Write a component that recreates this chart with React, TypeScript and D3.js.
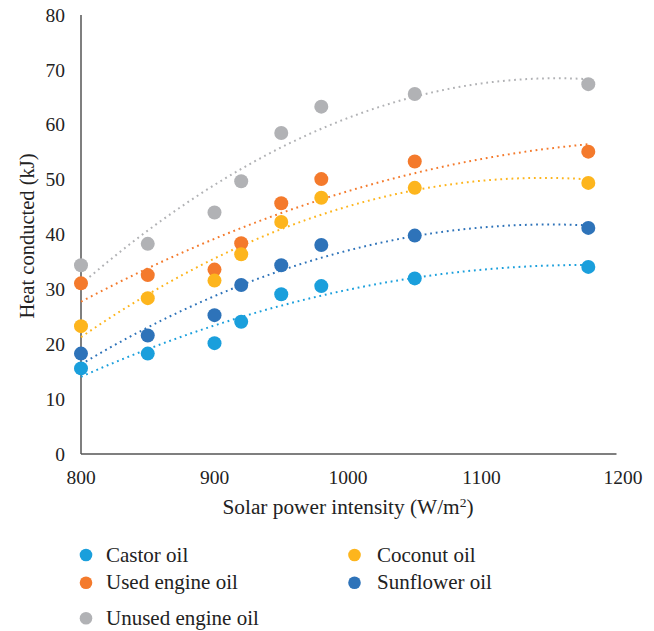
import React from "react";
import * as d3 from "d3";

const intensity = [800, 850, 900, 920, 950, 980, 1050, 1180];
const castorOil = [15.6, 18.3, 20.2, 24.1, 29.1, 30.6, 32.0, 34.1];
const usedEngineOil = [31.1, 32.6, 33.6, 38.4, 45.7, 50.1, 53.3, 55.1];
const unusedEngineOil = [34.4, 38.3, 44.0, 49.7, 58.5, 63.3, 65.6, 67.4];
const coconutOil = [23.3, 28.4, 31.6, 36.4, 42.3, 46.7, 48.5, 49.4];
const sunflowerOil = [18.3, 21.6, 25.3, 30.8, 34.4, 38.1, 39.8, 41.2];

const xTicks = [800, 900, 1000, 1100, 1200];
const yTicks = [0, 10, 20, 30, 40, 50, 60, 70, 80];

const seriesNames = ["Castor oil", "Coconut oil", "Used engine oil", "Sunflower oil", "Unused engine oil"];
const seriesColors = ["#1a9fdc", "#fdb51d", "#f47a2c", "#2e73b9", "#b1b2b5"];
const seriesValues = [castorOil, coconutOil, usedEngineOil, sunflowerOil, unusedEngineOil];

// draw order (bottom to top)
const drawOrder = [2, 4, 0, 1, 3];

function quadFit(xs: number[], ys: number[]) {
  const t = xs.map((x) => (x - 1000) / 100);
  const S = (p: number) => d3.sum(t, (v) => Math.pow(v, p));
  const T = (p: number) => d3.sum(t, (v, i) => Math.pow(v, p) * ys[i]);
  const A = [
    [S(0), S(1), S(2), T(0)],
    [S(1), S(2), S(3), T(1)],
    [S(2), S(3), S(4), T(2)],
  ];
  for (let i = 0; i < 3; i++) {
    for (let k = i + 1; k < 3; k++) {
      const f = A[k][i] / A[i][i];
      for (let j = i; j < 4; j++) A[k][j] -= f * A[i][j];
    }
  }
  const c = [0, 0, 0];
  for (let i = 2; i >= 0; i--) {
    let s = A[i][3];
    for (let j = i + 1; j < 3; j++) s -= A[i][j] * c[j];
    c[i] = s / A[i][i];
  }
  return (x: number) => {
    const v = (x - 1000) / 100;
    return c[0] + c[1] * v + c[2] * v * v;
  };
}

const FONT = "'Liberation Serif', 'DejaVu Serif', serif";

export default function App() {
  const x = d3.scaleLinear().domain([800, 1200]).range([81, 615]);
  const y = d3.scaleLinear().domain([0, 80]).range([454, 15]);

  const trendXs = d3.range(800, 1180.01, 2);

  return (
    <svg
      width={654}
      height={631}
      style={{ position: "absolute", left: 0, top: 0, background: "#fff" }}
      fontFamily={FONT}
    >
      <rect width={654} height={631} fill="#fff" />
      {/* axes */}
      <line x1={x(800)} x2={x(800)} y1={y(80)} y2={y(0)} stroke="#555" strokeWidth={1.5} />
      <line x1={x(800)} x2={616.5} y1={y(0)} y2={y(0)} stroke="#555" strokeWidth={1.5} />
      {yTicks.map((t) => (
        <text key={"y" + t} x={65} y={y(t)} dy="0.34em" textAnchor="end" fontSize={19.5} fill="#222">
          {t}
        </text>
      ))}
      {xTicks.map((t, i) => (
        <text
          key={"x" + t}
          x={x(t) + (i === xTicks.length - 1 ? 8 : 0)}
          y={483.5}
          textAnchor="middle"
          fontSize={19.5}
          fill="#222"
        >
          {t}
        </text>
      ))}
      <text x={348} y={513.5} textAnchor="middle" fontSize={21.3} fill="#222">
        Solar power intensity (W/m
        <tspan dy={-7} fontSize={13.5}>
          2
        </tspan>
        <tspan dy={7}>)</tspan>
      </text>
      <text
        transform={`translate(33.5,${236}) rotate(-90)`}
        textAnchor="middle"
        fontSize={20.5}
        fill="#222"
      >
        Heat conducted (kJ)
      </text>

      {/* trendlines */}
      {drawOrder.map((si) => {
        const f = quadFit(intensity, seriesValues[si]);
        const pts = trendXs.map((xv) => [x(xv), y(f(xv))] as [number, number]);
        const path = d3.line()(pts) as string;
        return (
          <path
            key={"t" + si}
            d={path}
            fill="none"
            stroke={seriesColors[si]}
            strokeWidth={2}
            strokeDasharray="1.8 3.8"
          />
        );
      })}

      {/* points */}
      {drawOrder.map((si) => (
        <g key={"p" + si}>
          {seriesValues[si].map((v, i) => (
            <circle key={i} cx={x(intensity[i])} cy={y(v)} r={7} fill={seriesColors[si]} />
          ))}
        </g>
      ))}

      {/* legend */}
      {seriesNames.map((name, i) => {
        const col = i % 2;
        const row = Math.floor(i / 2);
        const rowY = [555, 582.7, 618.3][row];
        const mx = col === 0 ? 86 : 354.5;
        const tx = col === 0 ? 106 : 377;
        return (
          <g key={"l" + i}>
            <circle cx={mx} cy={rowY} r={6.3} fill={seriesColors[i]} />
            <text x={tx} y={rowY + 6.5} fontSize={21} fill="#222">
              {name}
            </text>
          </g>
        );
      })}
    </svg>
  );
}
